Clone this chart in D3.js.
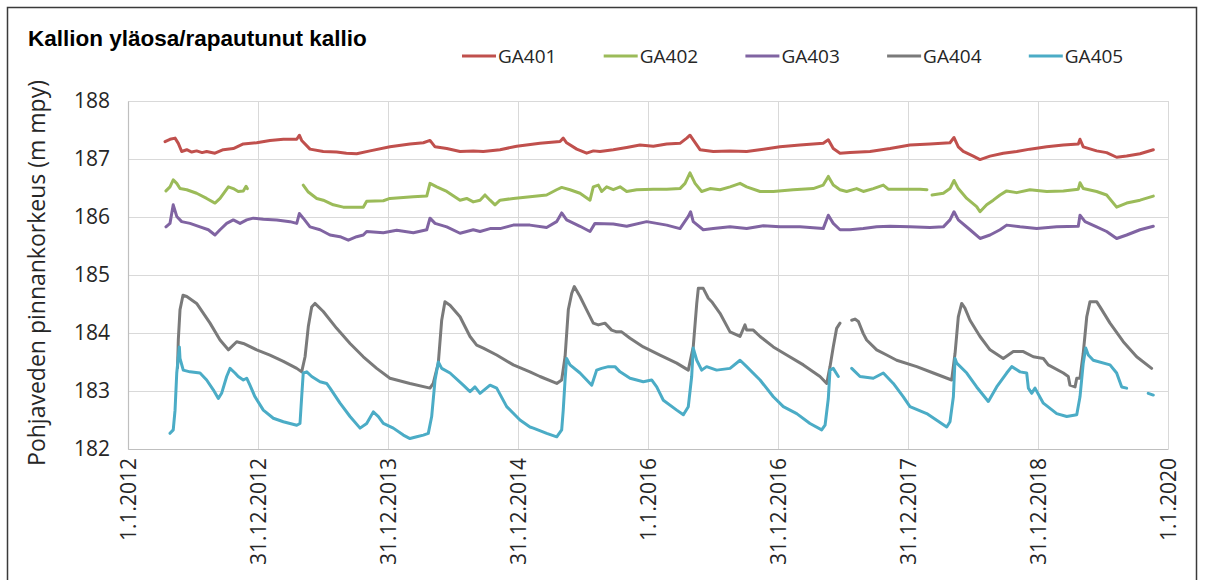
<!DOCTYPE html>
<html>
<head>
<meta charset="utf-8">
<script src="https://cdn.jsdelivr.net/npm/d3@7"></script>
<style>
  html, body { margin: 0; padding: 0; background: #fff; }
  svg { display: block; }
</style>
</head>
<body>
<svg id="chart" width="1208" height="580"></svg>
<script>
// Groundwater levels, upper bedrock / weathered bedrock observation wells.
// Time is given in decimal years (1 year = 365.25 days), level in m above sea level (m mpy).

const seriesNames = ["GA401", "GA402", "GA403", "GA404", "GA405"];
const seriesColors = ["#C0504D", "#9BBB59", "#8064A2", "#7A7A7A", "#4BACC6"];

const xTicks = [2012, 2013, 2014, 2015, 2016, 2017, 2018, 2019, 2020];
const xTickLabels = ["1.1.2012", "31.12.2012", "31.12.2013", "31.12.2014", "1.1.2016",
                     "31.12.2016", "31.12.2017", "31.12.2018", "1.1.2020"];
const yTicks = [182, 183, 184, 185, 186, 187, 188];

// [year, level]; a null level marks a break in the record
const ga401 = [
  [2012.285,187.30],[2012.323,187.34],[2012.362,187.36],[2012.387,187.27],[2012.413,187.13],
  [2012.452,187.16],[2012.490,187.12],[2012.528,187.14],[2012.570,187.11],[2012.605,187.13],
  [2012.669,187.10],[2012.733,187.16],[2012.810,187.18],[2012.887,187.26],[2012.990,187.28],
  [2013.092,187.32],[2013.195,187.34],[2013.298,187.34],[2013.318,187.41],[2013.336,187.32],
  [2013.400,187.17],[2013.502,187.13],[2013.605,187.12],[2013.680,187.10],[2013.759,187.09],
  [2013.862,187.14],[2014.015,187.21],[2014.169,187.26],[2014.272,187.28],[2014.323,187.32],
  [2014.362,187.21],[2014.452,187.18],[2014.554,187.13],[2014.656,187.14],[2014.733,187.13],
  [2014.862,187.16],[2014.990,187.22],[2015.169,187.27],[2015.323,187.30],[2015.348,187.36],
  [2015.374,187.28],[2015.452,187.17],[2015.528,187.10],[2015.580,187.14],[2015.631,187.13],
  [2015.733,187.16],[2015.836,187.20],[2015.938,187.24],[2016.041,187.22],[2016.144,187.26],
  [2016.246,187.27],[2016.298,187.36],[2016.323,187.41],[2016.348,187.33],[2016.400,187.16],
  [2016.502,187.13],[2016.631,187.14],[2016.759,187.13],[2016.887,187.17],[2017.015,187.21],
  [2017.169,187.24],[2017.348,187.27],[2017.387,187.33],[2017.425,187.18],[2017.477,187.10],
  [2017.554,187.11],[2017.708,187.13],[2017.862,187.18],[2018.015,187.24],[2018.169,187.26],
  [2018.323,187.28],[2018.354,187.37],[2018.387,187.21],[2018.425,187.13],[2018.502,187.05],
  [2018.554,186.99],[2018.631,187.05],[2018.733,187.10],[2018.836,187.13],[2018.938,187.17],
  [2019.067,187.21],[2019.195,187.24],[2019.310,187.26],[2019.323,187.34],[2019.348,187.21],
  [2019.451,187.14],[2019.528,187.11],[2019.605,187.03],[2019.682,187.05],[2019.785,187.09],
  [2019.887,187.16]
];

const ga402 = [
  [2012.292,186.45],[2012.323,186.52],[2012.348,186.64],[2012.375,186.58],[2012.400,186.49],
  [2012.452,186.47],[2012.528,186.41],[2012.605,186.32],[2012.669,186.24],[2012.708,186.32],
  [2012.772,186.52],[2012.810,186.49],[2012.848,186.44],[2012.887,186.45],[2012.908,186.53],
  [2012.918,186.49],[2013.100,null],
  [2013.348,186.55],[2013.387,186.43],[2013.452,186.32],[2013.502,186.29],[2013.579,186.21],
  [2013.656,186.17],[2013.759,186.17],[2013.810,186.17],[2013.836,186.27],[2013.964,186.28],
  [2014.015,186.32],[2014.195,186.35],[2014.298,186.36],[2014.323,186.58],[2014.375,186.52],
  [2014.452,186.44],[2014.554,186.29],[2014.605,186.32],[2014.656,186.26],[2014.708,186.29],
  [2014.746,186.38],[2014.785,186.29],[2014.823,186.21],[2014.862,186.29],[2014.964,186.32],
  [2015.092,186.35],[2015.220,186.38],[2015.297,186.47],[2015.336,186.51],[2015.400,186.47],
  [2015.477,186.41],[2015.554,186.29],[2015.579,186.52],[2015.618,186.55],[2015.644,186.44],
  [2015.682,186.52],[2015.733,186.47],[2015.785,186.52],[2015.836,186.44],[2015.913,186.47],
  [2016.041,186.48],[2016.144,186.48],[2016.246,186.49],[2016.285,186.58],[2016.323,186.76],
  [2016.362,186.58],[2016.413,186.44],[2016.477,186.49],[2016.554,186.47],[2016.631,186.52],
  [2016.708,186.58],[2016.759,186.52],[2016.862,186.44],[2016.964,186.44],[2017.117,186.47],
  [2017.271,186.49],[2017.348,186.55],[2017.387,186.70],[2017.425,186.55],[2017.477,186.47],
  [2017.528,186.44],[2017.605,186.49],[2017.656,186.44],[2017.733,186.49],[2017.810,186.55],
  [2017.848,186.48],[2017.964,186.48],[2018.092,186.48],[2018.146,186.47],[2018.165,null],
  [2018.185,186.38],[2018.272,186.41],[2018.323,186.49],[2018.354,186.63],[2018.387,186.49],
  [2018.452,186.32],[2018.528,186.18],[2018.554,186.09],[2018.605,186.21],[2018.656,186.29],
  [2018.708,186.38],[2018.759,186.45],[2018.836,186.42],[2018.938,186.47],[2019.067,186.44],
  [2019.195,186.45],[2019.310,186.48],[2019.323,186.59],[2019.348,186.49],[2019.451,186.44],
  [2019.528,186.38],[2019.605,186.17],[2019.682,186.24],[2019.785,186.29],[2019.887,186.36]
];

const ga403 = [
  [2012.292,185.83],[2012.323,185.89],[2012.348,186.21],[2012.375,186.01],[2012.413,185.92],
  [2012.477,185.89],[2012.554,185.83],[2012.618,185.78],[2012.669,185.69],[2012.708,185.78],
  [2012.759,185.89],[2012.810,185.95],[2012.862,185.89],[2012.913,185.95],[2012.964,185.98],
  [2013.041,185.96],[2013.144,185.95],[2013.246,185.92],[2013.298,185.89],[2013.318,186.06],
  [2013.348,185.98],[2013.400,185.83],[2013.477,185.78],[2013.554,185.69],[2013.631,185.66],
  [2013.695,185.60],[2013.759,185.66],[2013.810,185.69],[2013.836,185.75],[2013.964,185.73],
  [2014.067,185.77],[2014.195,185.73],[2014.298,185.78],[2014.323,185.98],[2014.362,185.89],
  [2014.452,185.83],[2014.554,185.72],[2014.656,185.78],[2014.708,185.75],[2014.785,185.80],
  [2014.862,185.80],[2014.964,185.86],[2015.092,185.86],[2015.220,185.82],[2015.297,185.92],
  [2015.336,186.07],[2015.374,185.95],[2015.477,185.84],[2015.554,185.75],[2015.592,185.89],
  [2015.733,185.88],[2015.836,185.84],[2015.990,185.92],[2016.144,185.86],[2016.246,185.80],
  [2016.310,186.01],[2016.328,186.09],[2016.348,185.92],[2016.425,185.78],[2016.502,185.80],
  [2016.631,185.83],[2016.759,185.80],[2016.887,185.85],[2017.015,185.83],[2017.169,185.83],
  [2017.348,185.80],[2017.387,186.03],[2017.425,185.89],[2017.477,185.78],[2017.554,185.78],
  [2017.656,185.80],[2017.759,185.83],[2017.862,185.84],[2018.015,185.83],[2018.169,185.82],
  [2018.272,185.83],[2018.323,185.95],[2018.354,186.09],[2018.387,185.95],[2018.477,185.78],
  [2018.554,185.63],[2018.631,185.69],[2018.708,185.78],[2018.759,185.86],[2018.862,185.83],
  [2018.990,185.80],[2019.144,185.83],[2019.310,185.84],[2019.323,186.03],[2019.362,185.92],
  [2019.451,185.83],[2019.528,185.75],[2019.605,185.63],[2019.682,185.69],[2019.785,185.78],
  [2019.887,185.84]
];

const ga404 = [
  [2012.381,183.40],[2012.387,183.88],[2012.400,184.40],[2012.423,184.65],[2012.452,184.63],
  [2012.528,184.51],[2012.631,184.17],[2012.708,183.88],[2012.772,183.71],[2012.836,183.85],
  [2012.887,183.82],[2012.990,183.71],[2013.092,183.62],[2013.195,183.51],[2013.298,183.39],
  [2013.336,183.33],[2013.362,183.59],[2013.387,184.11],[2013.413,184.45],[2013.438,184.51],
  [2013.502,184.37],[2013.605,184.08],[2013.708,183.82],[2013.810,183.59],[2013.913,183.39],
  [2014.015,183.22],[2014.169,183.13],[2014.323,183.05],[2014.348,183.13],[2014.387,183.48],
  [2014.413,184.22],[2014.438,184.54],[2014.477,184.48],[2014.554,184.28],[2014.631,183.94],
  [2014.682,183.79],[2014.733,183.74],[2014.836,183.62],[2014.964,183.45],[2015.092,183.33],
  [2015.169,183.25],[2015.298,183.13],[2015.336,183.19],[2015.362,183.59],[2015.387,184.40],
  [2015.413,184.68],[2015.433,184.80],[2015.477,184.63],[2015.528,184.40],[2015.579,184.17],
  [2015.618,184.14],[2015.669,184.17],[2015.720,184.05],[2015.759,184.02],[2015.797,184.02],
  [2015.862,183.91],[2015.964,183.76],[2016.092,183.62],[2016.221,183.48],[2016.310,183.36],
  [2016.348,183.76],[2016.375,184.51],[2016.387,184.77],[2016.425,184.77],[2016.464,184.60],
  [2016.490,184.54],[2016.554,184.34],[2016.631,184.02],[2016.708,183.94],[2016.746,184.14],
  [2016.759,184.05],[2016.810,184.05],[2016.862,183.94],[2016.964,183.76],[2017.067,183.62],
  [2017.195,183.45],[2017.323,183.25],[2017.375,183.13],[2017.400,183.42],[2017.425,183.76],
  [2017.451,184.08],[2017.477,184.17],[2017.520,null],
  [2017.567,184.22],[2017.592,184.24],[2017.618,184.20],[2017.656,183.99],[2017.682,183.88],
  [2017.759,183.71],[2017.836,183.62],[2017.913,183.53],[2018.067,183.42],[2018.195,183.31],
  [2018.336,183.19],[2018.362,183.65],[2018.387,184.28],[2018.413,184.51],[2018.438,184.43],
  [2018.477,184.22],[2018.554,183.94],[2018.631,183.71],[2018.733,183.56],[2018.810,183.68],
  [2018.887,183.68],[2018.964,183.59],[2019.041,183.56],[2019.079,183.45],[2019.195,183.31],
  [2019.233,183.25],[2019.246,183.10],[2019.285,183.07],[2019.298,183.22],[2019.323,183.22],
  [2019.348,183.65],[2019.375,184.28],[2019.400,184.54],[2019.451,184.54],[2019.477,184.45],
  [2019.554,184.17],[2019.656,183.85],[2019.759,183.59],[2019.874,183.39]
];

const ga405 = [
  [2012.323,182.27],[2012.348,182.33],[2012.362,182.67],[2012.375,183.31],[2012.395,183.76],
  [2012.400,183.56],[2012.425,183.36],[2012.477,183.33],[2012.554,183.31],[2012.605,183.19],
  [2012.656,183.02],[2012.695,182.87],[2012.720,182.96],[2012.759,183.25],[2012.785,183.39],
  [2012.823,183.31],[2012.848,183.25],[2012.887,183.19],[2012.913,183.22],[2012.938,183.10],
  [2012.977,182.90],[2013.041,182.67],[2013.118,182.53],[2013.195,182.47],[2013.298,182.41],
  [2013.323,182.44],[2013.336,182.90],[2013.348,183.31],[2013.375,183.33],[2013.413,183.25],
  [2013.477,183.16],[2013.528,183.13],[2013.554,183.05],[2013.631,182.79],[2013.708,182.56],
  [2013.785,182.36],[2013.836,182.44],[2013.887,182.64],[2013.926,182.56],[2013.964,182.44],
  [2014.041,182.36],[2014.118,182.24],[2014.169,182.18],[2014.221,182.21],[2014.272,182.24],
  [2014.310,182.27],[2014.336,182.56],[2014.362,183.19],[2014.387,183.50],[2014.413,183.39],
  [2014.477,183.31],[2014.579,183.10],[2014.631,182.99],[2014.669,183.07],[2014.708,182.96],
  [2014.785,183.10],[2014.836,183.05],[2014.913,182.73],[2015.015,182.50],[2015.092,182.38],
  [2015.118,182.36],[2015.221,182.27],[2015.298,182.21],[2015.336,182.33],[2015.348,182.67],
  [2015.362,183.19],[2015.374,183.56],[2015.400,183.45],[2015.477,183.31],[2015.567,183.10],
  [2015.605,183.36],[2015.643,183.39],[2015.695,183.42],[2015.746,183.42],[2015.785,183.33],
  [2015.862,183.22],[2015.964,183.16],[2016.028,183.19],[2016.067,183.07],[2016.118,182.84],
  [2016.221,182.67],[2016.272,182.59],[2016.310,182.73],[2016.336,183.25],[2016.348,183.74],
  [2016.375,183.53],[2016.413,183.36],[2016.451,183.42],[2016.528,183.36],[2016.631,183.39],
  [2016.708,183.53],[2016.759,183.42],[2016.862,183.19],[2016.964,182.90],[2017.041,182.73],
  [2017.144,182.61],[2017.246,182.44],[2017.336,182.33],[2017.362,182.41],[2017.387,182.87],
  [2017.400,183.36],[2017.425,183.39],[2017.464,183.25],[2017.515,null],
  [2017.567,183.39],[2017.631,183.25],[2017.733,183.22],[2017.810,183.31],[2017.887,183.13],
  [2017.964,182.90],[2018.015,182.73],[2018.144,182.61],[2018.298,182.38],[2018.323,182.47],
  [2018.349,182.90],[2018.362,183.56],[2018.375,183.48],[2018.452,183.31],[2018.528,183.07],
  [2018.618,182.82],[2018.682,183.07],[2018.759,183.31],[2018.798,183.42],[2018.862,183.33],
  [2018.913,183.31],[2018.926,183.05],[2018.951,182.96],[2018.977,183.05],[2019.041,182.79],
  [2019.144,182.61],[2019.221,182.56],[2019.298,182.59],[2019.323,182.90],[2019.348,183.48],
  [2019.367,183.74],[2019.387,183.62],[2019.425,183.53],[2019.554,183.45],[2019.605,183.31],
  [2019.644,183.07],[2019.682,183.05],[2019.760,null],
  [2019.848,182.96],[2019.887,182.93]
];

const seriesData = [ga401, ga402, ga403, ga404, ga405];

const svg = d3.select("#chart");
const plot = { left: 128, right: 1168, top: 101, bottom: 449 };

// chart frame
svg.append("rect")
  .attr("x", 7.5).attr("y", 7.5)
  .attr("width", 1189).attr("height", 590)
  .attr("fill", "#fff")
  .attr("stroke", "#3a3a3a").attr("stroke-width", 1.5);

const x = d3.scaleLinear().domain([2012, 2020]).range([plot.left, plot.right]);
const y = d3.scaleLinear().domain([182, 188]).range([plot.bottom, plot.top]);

// gridlines
const grid = svg.append("g").attr("class", "grid");
grid.selectAll("line.h").data(yTicks).join("line")
  .attr("class", "h")
  .attr("x1", plot.left).attr("x2", plot.right)
  .attr("y1", d => Math.round(y(d)) + 0.5).attr("y2", d => Math.round(y(d)) + 0.5)
  .attr("stroke", "#d9d9d9").attr("stroke-width", 1);
grid.selectAll("line.v").data(xTicks).join("line")
  .attr("class", "v")
  .attr("x1", d => Math.round(x(d)) + 0.5).attr("x2", d => Math.round(x(d)) + 0.5)
  .attr("y1", plot.top).attr("y2", plot.bottom)
  .attr("stroke", "#d9d9d9").attr("stroke-width", 1);

// axes
const xAxis = d3.axisBottom(x)
  .tickValues(xTicks)
  .tickSize(0)
  .tickPadding(0)
  .tickFormat((d, i) => xTickLabels[i]);
const gx = svg.append("g")
  .attr("transform", `translate(0,${plot.bottom})`)
  .call(xAxis);
gx.select(".domain").attr("stroke", "#bfbfbf").attr("stroke-width", 1.2);
gx.selectAll(".tick text")
  .attr("transform", "rotate(-90)")
  .attr("x", -9).attr("y", 0).attr("dy", "0.36em")
  .attr("text-anchor", "end")
  .attr("fill", "#262626")
  .style("font-family", "'Open Sans', sans-serif")
  .style("font-size", "21px");

const yAxis = d3.axisLeft(y)
  .tickValues(yTicks)
  .tickSize(0)
  .tickPadding(18)
  .tickFormat(d3.format("d"));
const gy = svg.append("g")
  .attr("transform", `translate(${plot.left},0)`)
  .call(yAxis);
gy.select(".domain").attr("stroke", "#bfbfbf").attr("stroke-width", 1.2);
gy.selectAll(".tick text")
  .attr("fill", "#262626")
  .style("font-family", "'Open Sans', sans-serif")
  .style("font-size", "21px");

// series
const line = d3.line()
  .defined(d => d[1] !== null)
  .x(d => x(d[0]))
  .y(d => y(d[1]));

const lines = svg.append("g").attr("class", "series");
seriesData.forEach((data, i) => {
  lines.append("path")
    .datum(data)
    .attr("d", line)
    .attr("fill", "none")
    .attr("stroke", seriesColors[i])
    .attr("stroke-width", 3)
    .attr("stroke-linejoin", "round")
    .attr("stroke-linecap", "round");
});

// title
svg.append("text")
  .attr("x", 28).attr("y", 46)
  .attr("fill", "#000")
  .style("font-family", "'Liberation Sans', Arial, sans-serif")
  .style("font-weight", "bold")
  .style("font-size", "22.5px")
  .text("Kallion yläosa/rapautunut kallio");

// y-axis title
svg.append("text")
  .attr("transform", `translate(45,${(plot.top + plot.bottom) / 2 - 2}) rotate(-90)`)
  .attr("text-anchor", "middle")
  .attr("fill", "#262626")
  .style("font-family", "'Open Sans', sans-serif")
  .style("font-size", "23px")
  .text("Pohjaveden pinnankorkeus (m mpy)");

// legend
const legendStart = 462, legendStep = 141.7, legendY = 56;
const legend = svg.append("g").attr("class", "legend");
seriesNames.forEach((name, i) => {
  const lx = legendStart + i * legendStep;
  legend.append("line")
    .attr("x1", lx).attr("x2", lx + 34)
    .attr("y1", legendY).attr("y2", legendY)
    .attr("stroke", seriesColors[i]).attr("stroke-width", 3);
  legend.append("text")
    .attr("x", lx + 36).attr("y", legendY).attr("dy", "0.35em")
    .attr("fill", "#262626")
    .style("font-family", "'Open Sans', sans-serif")
    .style("font-size", "19px")
    .text(name);
});
</script>
</body>
</html>
